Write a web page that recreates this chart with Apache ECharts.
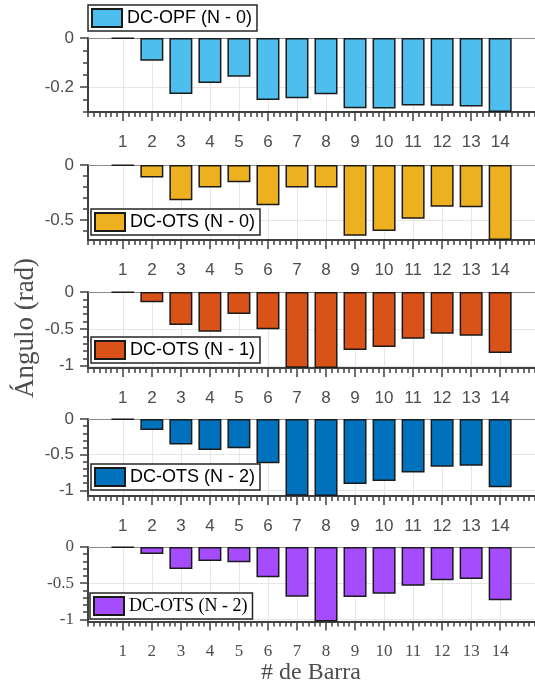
<!DOCTYPE html>
<html>
<head>
<meta charset="utf-8">
<script src="https://cdn.jsdelivr.net/npm/echarts@6/dist/echarts.min.js"></script>
<style>
  html, body { margin: 0; padding: 0; background: #fff; }
  #chart { width: 535px; height: 685px; }
</style>
</head>
<body>
<div id="chart"></div>
<script>
// Bus numbers (x categories)
const buses = [1, 2, 3, 4, 5, 6, 7, 8, 9, 10, 11, 12, 13, 14];

// Voltage angles per bus (rad)
const opfN0  = [-0.002, -0.093, -0.229, -0.184, -0.158, -0.253, -0.246, -0.230, -0.287, -0.288, -0.275, -0.276, -0.280, -0.302];
const otsN0  = [-0.004, -0.114, -0.319, -0.204, -0.156, -0.364, -0.204, -0.204, -0.641, -0.599, -0.488, -0.379, -0.382, -0.680];
const otsN1  = [-0.004, -0.140, -0.448, -0.539, -0.299, -0.506, -1.025, -1.030, -0.787, -0.746, -0.634, -0.566, -0.593, -0.828];
const otsN2  = [-0.004, -0.156, -0.359, -0.434, -0.410, -0.622, -1.075, -1.080, -0.911, -0.868, -0.750, -0.670, -0.656, -0.958];
const otsN2b = [-0.004, -0.096, -0.303, -0.193, -0.211, -0.417, -0.688, -1.030, -0.692, -0.646, -0.536, -0.458, -0.444, -0.737];

// Legend labels
const seriesLabels = ['DC-OPF (N - 0)', 'DC-OTS (N - 0)', 'DC-OTS (N - 1)', 'DC-OTS (N - 2)', 'DC-OTS (N - 2)'];

// Labelled y ticks per panel
const yTickLabels = [
  [0, -0.2],
  [0, -0.5],
  [0, -0.5, -1],
  [0, -0.5, -1],
  [0, -0.5, -1]
];

const allValues = [opfN0, otsN0, otsN1, otsN2, otsN2b];

const SANS = "'Liberation Sans', Arial, Helvetica, sans-serif";
const SERIF = "'Liberation Serif', 'Times New Roman', serif";

const panels = [
  { top: 38,  height: 74,   color: '#4DBEEE', legend: { left: 88, top: 5 },   font: SANS,  yMinor: 0.05 },
  { top: 165, height: 75,   color: '#EDB120', legend: { left: 91, top: 209 }, font: SANS,  yMinor: 0.1 },
  { top: 292, height: 76,   color: '#D95319', legend: { left: 91, top: 337 }, font: SANS,  yMinor: 0.1 },
  { top: 419, height: 77,   color: '#0072BD', legend: { left: 91, top: 464 }, font: SANS,  yMinor: 0.1 },
  { top: 547, height: 74.5, color: '#A64CFF', legend: { left: 90, top: 593 }, font: SERIF, yMinor: 0.1 }
];

const X_MIN = -0.2, X_MAX = 15.2;
const AXIS_COLOR = '#404040';
const LABEL_COLOR = '#4d4d4d';
const GRID_COLOR = '#e6e6e6';

function steps(from, to, step) {
  const out = [];
  const n = Math.round((to - from) / step);
  for (let k = 0; k <= n; k++) out.push(+(from + k * step).toFixed(4));
  return out;
}
const xMinor = steps(X_MIN, X_MAX, 0.2);

const grid = [], xAxis = [], yAxis = [], series = [], legend = [];

panels.forEach((p, i) => {
  const vals = allValues[i];
  const yMin = Math.min(...vals);
  const id = 'panel' + i;
  const yMinorTicks = steps(0, -Math.floor(-yMin / p.yMinor + 1e-9) * p.yMinor, -p.yMinor);

  grid.push({ left: 88, top: p.top, width: 460, height: p.height });

  // main bottom axis: labels, major ticks, vertical grid lines
  xAxis.push({
    gridIndex: i, type: 'value', min: X_MIN, max: X_MAX, position: 'bottom',
    axisLine: { show: true, onZero: false, lineStyle: { color: AXIS_COLOR, width: 2 } },
    axisTick: { show: true, customValues: buses, length: 9, lineStyle: { color: AXIS_COLOR, width: 1.5 } },
    axisLabel: { show: true, customValues: buses, margin: 22, color: LABEL_COLOR, fontSize: 17, fontFamily: p.font },
    splitLine: { show: true, lineStyle: { color: GRID_COLOR, width: 1 } }
  });
  // minor ticks on the bottom axis
  xAxis.push({
    gridIndex: i, type: 'value', min: X_MIN, max: X_MAX, position: 'bottom',
    axisLine: { show: false, onZero: false },
    axisTick: { show: true, customValues: xMinor, length: 5, lineStyle: { color: AXIS_COLOR, width: 1.5 } },
    axisLabel: { show: false }, splitLine: { show: false }
  });
  // thin top border at zero
  xAxis.push({
    gridIndex: i, type: 'value', min: X_MIN, max: X_MAX, position: 'top',
    axisLine: { show: true, onZero: false, lineStyle: { color: '#8c8c8c', width: 1 } },
    axisTick: { show: false }, axisLabel: { show: false }, splitLine: { show: false }
  });

  yAxis.push({
    gridIndex: i, type: 'value', min: yMin, max: 0, position: 'left',
    axisLine: { show: true, onZero: false, lineStyle: { color: AXIS_COLOR, width: 2 } },
    axisTick: { show: true, customValues: yTickLabels[i], length: 8, lineStyle: { color: AXIS_COLOR, width: 1.5 } },
    axisLabel: { show: true, customValues: yTickLabels[i], margin: 14, color: LABEL_COLOR, fontSize: 17, fontFamily: p.font,
                 formatter: v => String(v) },
    splitLine: { show: true, lineStyle: { color: GRID_COLOR, width: 1 } }
  });
  yAxis.push({
    gridIndex: i, type: 'value', min: yMin, max: 0, position: 'left',
    axisLine: { show: false, onZero: false },
    axisTick: { show: true, customValues: yMinorTicks, length: 5, lineStyle: { color: AXIS_COLOR, width: 1.5 } },
    axisLabel: { show: false }, splitLine: { show: false }
  });

  series.push({
    name: id, type: 'bar',
    xAxisIndex: 3 * i, yAxisIndex: 2 * i,
    barWidth: 23,
    itemStyle: { color: p.color, borderColor: '#1a1a1a', borderWidth: 1.5 },
    data: buses.map((b, k) => [b, vals[k]])
  });

  legend.push({
    data: [id], left: p.legend.left, top: p.legend.top,
    orient: 'vertical', icon: 'rect', itemWidth: 30, itemHeight: 18,
    padding: [3, 5, 3, 3], borderColor: '#262626', borderWidth: 1.5, borderRadius: 0,
    backgroundColor: '#fff', selectedMode: false,
    formatter: () => seriesLabels[i],
    textStyle: { color: '#000', fontSize: 18, fontFamily: p.font }
  });
});

const chart = echarts.init(document.getElementById('chart'), null, { renderer: 'canvas' });
chart.setOption({
  animation: false,
  backgroundColor: '#fff',
  grid, xAxis, yAxis, series, legend,
  graphic: [
    { type: 'text', x: 26, y: 328, rotation: Math.PI / 2,
      style: { text: 'Ángulo (rad)', fill: LABEL_COLOR, font: '27px ' + SERIF, align: 'center', verticalAlign: 'middle' } },
    { type: 'text', x: 311, y: 673,
      style: { text: '# de Barra', fill: LABEL_COLOR, font: '24px ' + SERIF, align: 'center', verticalAlign: 'middle' } }
  ]
});
</script>
</body>
</html>
